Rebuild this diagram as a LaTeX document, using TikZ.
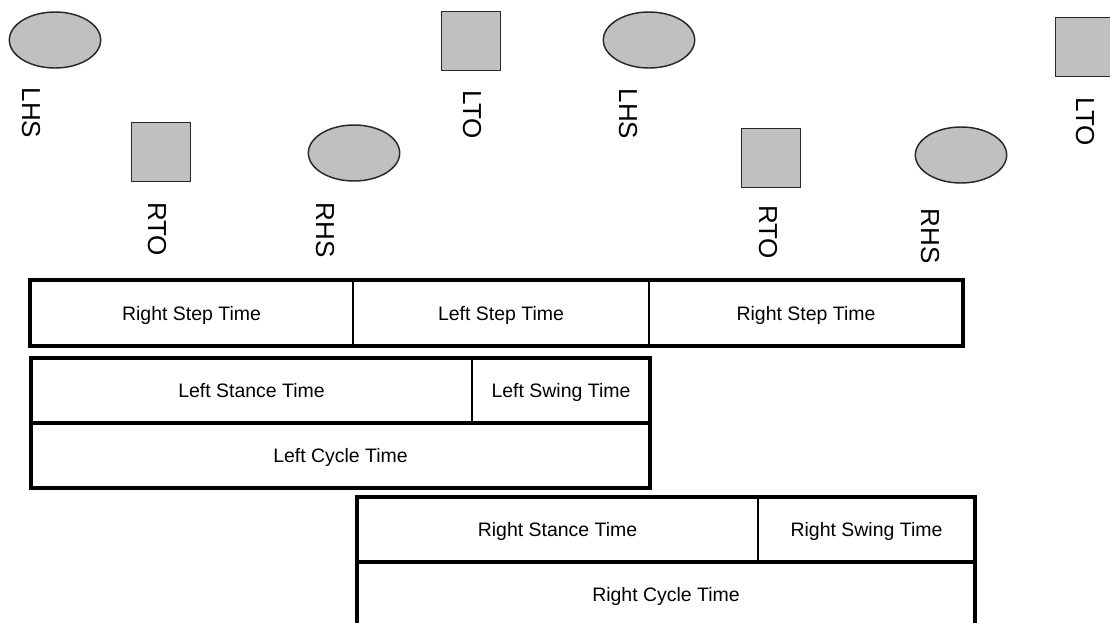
\documentclass[tikz,border=0pt]{standalone}
\usepackage{fontspec}
\setmainfont{Liberation Sans}
\usetikzlibrary{shapes.geometric}
\tikzstyle{gaitPlane} = [x = .75pt, y = -.75pt]
\definecolor{eventFill}{RGB}{192,192,192}
\definecolor{eventLine}{RGB}{40,40,40}
\tikzstyle{eventStyle} = [fill=eventFill, draw=eventLine, line width=1.1pt]
\tikzstyle{heelStrike} = [eventStyle, ellipse, minimum width=68.5pt, minimum height=42pt, inner sep=0]
\tikzstyle{toeOff} = [eventStyle, rectangle, minimum size=44pt, inner sep=0]
\tikzstyle{eventText} = [rotate=-90, font=\fontsize{19.5}{22}\selectfont, inner sep=0]
\tikzstyle{cellLine} = [color=black, line width=1.4pt]
\tikzstyle{dividerLine} = [color=black, line width=2.3pt]
\tikzstyle{frameLine} = [color=black, line width=3pt, line join=miter]
\tikzstyle{cellText} = [font=\fontsize{14.6}{17}\selectfont, text height=10.5pt, text depth=0pt, inner sep=0, midway]
\newcommand{\timeCell}[6]{\draw [cellLine] (#2, #3) rectangle (#4, #5) node [cellText] (#1) {#6};}
\newcommand{\timeFrame}[4]{\draw [frameLine] (#1, #2) rectangle (#3, #4);}
\newcommand{\timeDivider}[3]{\draw [dividerLine] (#1, #3) -- (#2, #3);}
\begin{document}
\begin{tikzpicture}[gaitPlane]
  \clip (0,0) rectangle (1110,622);
  % gait events
  \node [heelStrike] (lhsA) at (55,40) {};
  \node [eventText] (lhsALabel) at (31,113) {LHS};
  \node [toeOff] (rtoA) at (161,152) {};
  \node [eventText] (rtoALabel) at (157,229) {RTO};
  \node [heelStrike] (rhsA) at (354,153) {};
  \node [eventText] (rhsALabel) at (325,230) {RHS};
  \node [toeOff] (ltoA) at (471,41) {};
  \node [eventText] (ltoALabel) at (472,115) {LTO};
  \node [heelStrike] (lhsB) at (649,40) {};
  \node [eventText] (lhsBLabel) at (628,114) {LHS};
  \node [toeOff] (rtoB) at (771,158) {};
  \node [eventText] (rtoBLabel) at (768,232) {RTO};
  \node [heelStrike] (rhsB) at (961,155) {};
  \node [eventText] (rhsBLabel) at (930,236) {RHS};
  \node [toeOff] (ltoB) at (1085,47) {};
  \node [eventText] (ltoBLabel) at (1085,122) {LTO};

  % step times
  \timeCell{rightStepA}{30}{280}{353}{346}{Right Step Time}
  \timeCell{leftStep}{353}{280}{649}{346}{Left Step Time}
  \timeCell{rightStepB}{649}{280}{963}{346}{Right Step Time}
  \timeFrame{30}{280}{963}{346}

  % left cycle
  \timeCell{leftStance}{31}{358}{472}{423}{Left Stance Time}
  \timeCell{leftSwing}{472}{358}{650}{423}{Left Swing Time}
  \timeCell{leftCycle}{31}{423}{650}{488}{Left Cycle Time}
  \timeDivider{31}{650}{423}
  \timeFrame{31}{358}{650}{488}

  % right cycle
  \timeCell{rightStance}{357}{497}{758}{562}{Right Stance Time}
  \timeCell{rightSwing}{758}{497}{975}{562}{Right Swing Time}
  \timeCell{rightCycle}{357}{562}{975}{626}{Right Cycle Time}
  \timeDivider{357}{975}{562}
  \timeFrame{357}{497}{975}{626}
\end{tikzpicture}
\end{document}
